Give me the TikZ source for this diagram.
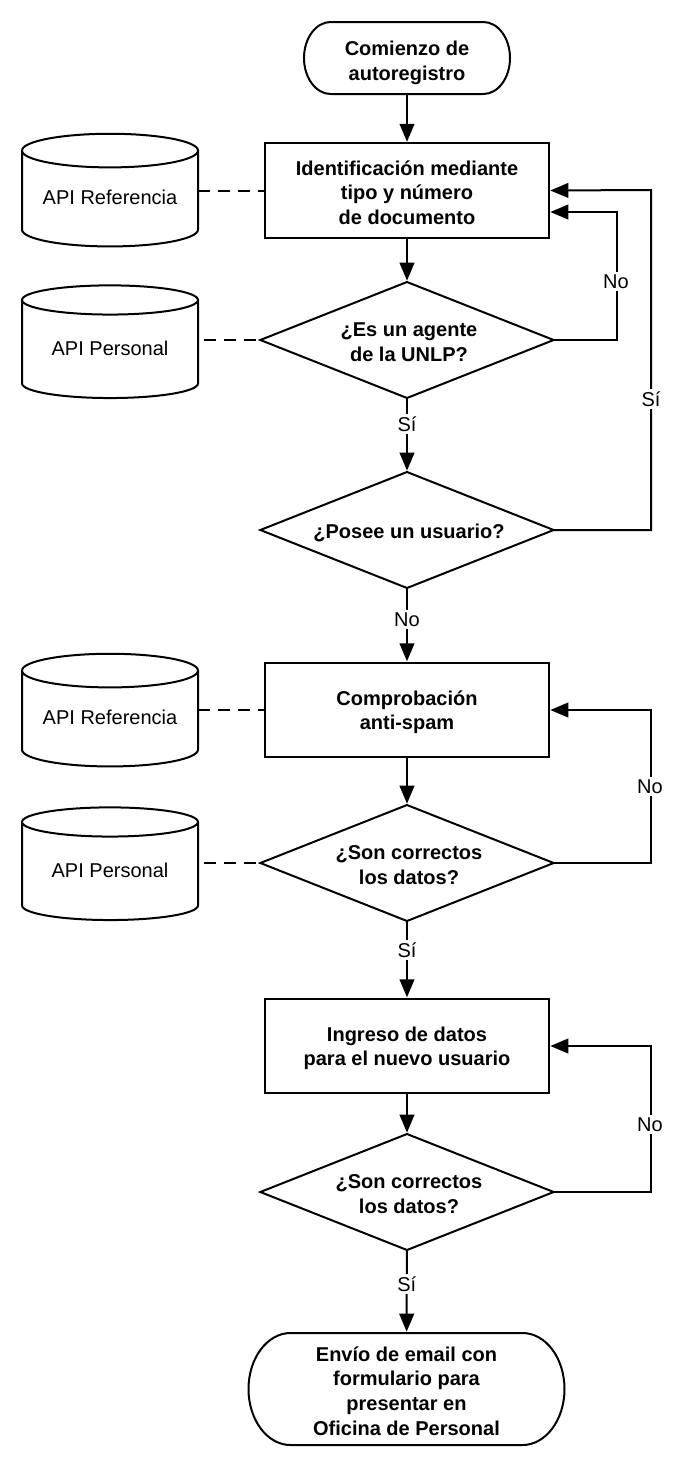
\documentclass[tikz,border=0pt]{standalone}
\usepackage{fontspec}
\setmainfont{Liberation Sans}
\usetikzlibrary{arrows.meta,shapes.geometric,calc}
\newcommand{\termline}[3]{\draw[line width=1.5pt] (#1.west) arc (180:90:#2 and #3) -- ([xshift=-#2]#1.north east) arc (90:0:#2 and #3) arc (0:-90:#2 and #3) -- ([xshift=#2]#1.south west) arc (-90:-180:#2 and #3) -- cycle;}
\tikzset{
  x=0.75pt,y=-0.75pt,
  every node/.style={inner sep=0pt,outer sep=0pt},
  box/.style={draw,line width=1.5pt,font=\bfseries\fontsize{15}{18.4}\selectfont,align=center},
  textdrop/.style={execute at begin node={\rule{0pt}{#1}}},
  procbox/.style={box,rectangle,minimum width=213pt,minimum height=71pt},
  termbox/.style={box,draw=none,rectangle},
  decision/.style={box,diamond,minimum width=220pt,minimum height=87pt,aspect=2.5},
  decisiondrop/.style={execute at begin node={\hspace*{3pt}\rule{0pt}{#1}}},
  store/.style={draw,line width=1.5pt,cylinder,shape border rotate=90,shape aspect=0.25,minimum width=132pt,minimum height=84.5pt,font=\fontsize{15}{18}\selectfont,execute at begin node={\rule[-2pt]{0pt}{2pt}}},
  flow/.style={line width=1.5pt,-{Triangle[length=13.5pt,width=11pt]},shorten >=1pt},
  link/.style={line width=1.5pt,dashed,dash pattern=on 9pt off 6pt},
  tag/.style={fill=white,font=\fontsize{15}{18}\selectfont,inner ysep=2pt,inner xsep=1pt},
}
\begin{document}
\begin{tikzpicture}
\useasboundingbox (0,0) rectangle (692,1468);
\node[termbox,textdrop=36.2pt,minimum width=154.5pt,minimum height=54pt] (start) at (407,58) {Comienzo de\\autoregistro};
\node[procbox,textdrop=50.8pt] (id) at (407,190.5) {Identificación mediante\\tipo y número\\de documento};
\node[decision,decisiondrop=32.4pt] (agent) at (407,340) {¿Es un agente\\de la UNLP?};
\node[decision,decisiondrop=15pt] (user) at (407,530) {¿Posee un usuario?};
\node[procbox,textdrop=32.4pt] (spam) at (407,710) {Comprobación\\anti-spam};
\node[decision,decisiondrop=32.4pt] (ok1) at (407,863) {¿Son correctos\\los datos?};
\node[procbox,textdrop=32.4pt] (data) at (407,1046) {Ingreso de datos\\para el nuevo usuario};
\node[decision,decisiondrop=32.4pt] (ok2) at (407,1192) {¿Son correctos\\los datos?};
\node[termbox,textdrop=69.2pt,minimum width=237pt,minimum height=84pt] (end) at (406.5,1389) {Envío de email con\\formulario para\\presentar en\\Oficina de Personal};
\termline{start}{20pt}{27pt}
\termline{end}{31.5pt}{42pt}
\node[store] (c1) at (110,199) {API Referencia};
\node[store] (c2) at (110,349.5) {API Personal};
\node[store] (c3) at (110,719) {API Referencia};
\node[store] (c4) at (110,871.5) {API Personal};
\coordinate (idA) at (id.east);
\coordinate (idB) at (id.east |- 0,212);
\coordinate (c2e) at (204,340);
\coordinate (c4e) at (204,863);
\draw[flow] (start) -- (id);
\draw[flow] (id) -- (agent);
\draw[flow] (agent) -- node[tag,pos=0.356] {Sí} (user);
\draw[flow] (user) -- node[tag,pos=0.42] {No} (spam);
\draw[flow] (spam) -- (ok1);
\draw[flow] (ok1) -- node[tag,pos=0.37] {Sí} (data);
\draw[flow] (data) -- (ok2);
\draw[flow] (ok2) -- node[tag,pos=0.41] {Sí} (end);
\draw[flow] (agent.east) -- (617,340) -- node[tag,pos=0.455,xshift=-0.75pt] {No} (617,212) -- (idB);
\draw[flow] (user.east) -- (651,530) -- node[tag,pos=0.385] {Sí} (651,190) -- (idA);
\draw[flow] (ok1.east) -- (651,863) -- node[tag,pos=0.5,xshift=-0.75pt] {No} (651,710) -- (spam.east);
\draw[flow] (ok2.east) -- (651,1192) -- node[tag,pos=0.46,xshift=-0.75pt] {No} (651,1046) -- (data.east);
\draw[link] (c1.east |- id) -- (id.west);
\draw[link] (c2e) -- (agent.west);
\draw[link] (c3.east |- spam) -- (spam.west);
\draw[link] (c4e) -- (ok1.west);
\end{tikzpicture}
\end{document}
